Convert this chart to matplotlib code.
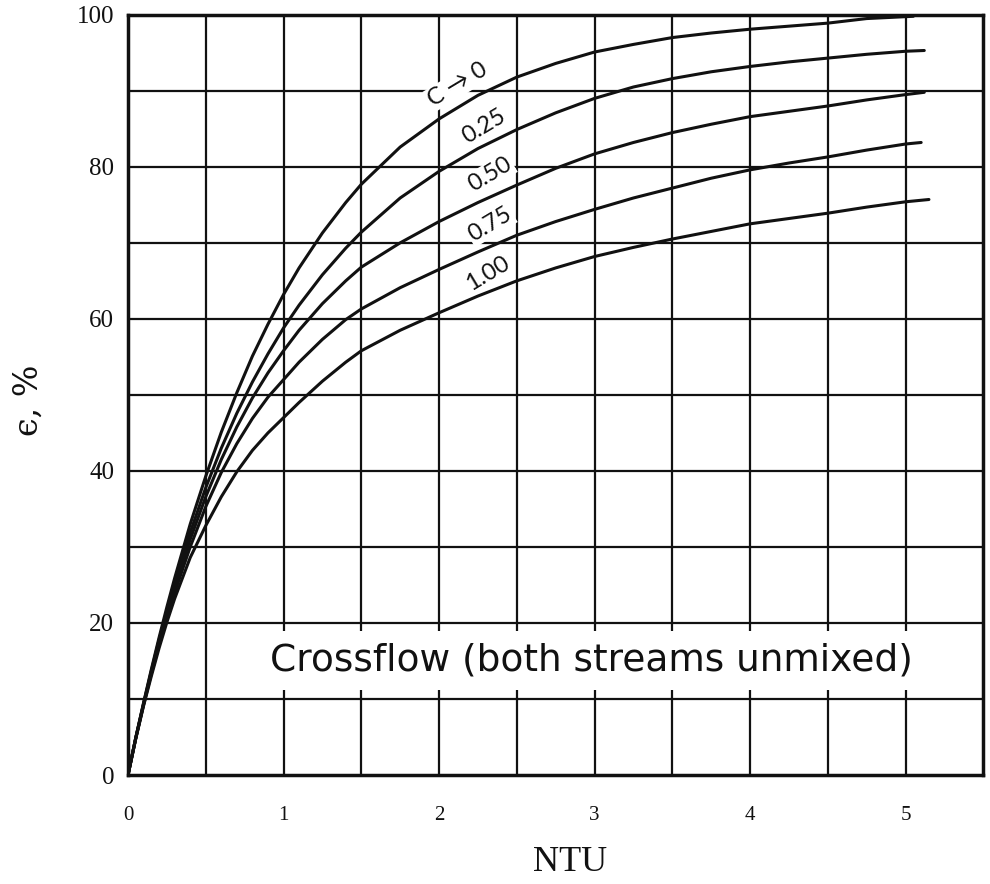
import numpy as np
import matplotlib
matplotlib.use("Agg")
import matplotlib.pyplot as plt
from matplotlib.patches import Rectangle

# ---- data (NTU vs effectiveness %) ----
ntu = [0, 0.05, 0.1, 0.15, 0.2, 0.25, 0.3, 0.4, 0.5, 0.6, 0.7, 0.8, 0.9, 1.0,
       1.1, 1.25, 1.4, 1.5, 1.75, 2.0, 2.25, 2.5, 2.75, 3.0, 3.25, 3.5, 3.75,
       4.0, 4.25, 4.5]

eff_c000 = [0, 4.9, 9.5, 13.9, 18.1, 22.1, 25.9, 33.0, 39.3, 45.1, 50.3, 55.1, 59.3, 63.2,
            66.7, 71.3, 75.3, 77.7, 82.6, 86.3, 89.4, 91.8, 93.6, 95.1, 96.1, 97.0, 97.6,
            98.1, 98.5, 98.9]
eff_c025 = [0, 4.9, 9.4, 13.7, 17.8, 21.6, 25.2, 31.9, 37.8, 43.0, 47.6, 51.7, 55.4, 58.8,
            61.8, 65.8, 69.3, 71.4, 75.9, 79.4, 82.4, 84.9, 87.1, 89.0, 90.5, 91.6, 92.5,
            93.2, 93.8, 94.3]
eff_c050 = [0, 4.9, 9.3, 13.5, 17.5, 21.2, 24.6, 31.0, 36.6, 41.5, 45.8, 49.6, 52.9, 55.8,
            58.5, 62.0, 65.0, 66.8, 70.0, 72.8, 75.3, 77.6, 79.8, 81.7, 83.2, 84.5, 85.6,
            86.6, 87.3, 88.0]
eff_c075 = [0, 4.8, 9.2, 13.3, 17.1, 20.7, 24.0, 30.0, 35.3, 39.8, 43.6, 46.9, 49.7, 52.0,
            54.3, 57.3, 59.9, 61.3, 64.1, 66.5, 68.8, 71.0, 72.8, 74.4, 75.9, 77.2, 78.5,
            79.6, 80.5, 81.3]
eff_c100 = [0, 4.8, 9.1, 13.0, 16.7, 20.1, 23.2, 28.6, 32.8, 36.6, 39.9, 42.7, 45.0, 47.0,
            49.0, 51.8, 54.3, 55.8, 58.5, 60.8, 63.0, 65.0, 66.7, 68.2, 69.4, 70.5, 71.5,
            72.5, 73.2, 73.9]

# curve end points (NTU, eff)
end_ntu = {"0": [4.75, 5.05], "0.25": [4.75, 5.0, 5.12], "0.50": [4.75, 5.0, 5.12],
           "0.75": [4.75, 5.0, 5.1], "1.00": [4.75, 5.0, 5.15]}
end_eff = {"0": [99.5, 99.8], "0.25": [94.8, 95.2, 95.3], "0.50": [88.8, 89.5, 89.8],
           "0.75": [82.2, 83.0, 83.2], "1.00": [74.7, 75.4, 75.7]}

curve_keys = ["0", "0.25", "0.50", "0.75", "1.00"]
curve_vals = [eff_c000, eff_c025, eff_c050, eff_c075, eff_c100]
label_text = ["C \u2192 0", "0.25", "0.50", "0.75", "1.00"]
label_x = [2.12, 2.29, 2.33, 2.33, 2.31]
label_y = [90.8, 85.3, 79.0, 72.4, 66.0]

x_ticks = [0, 1, 2, 3, 4, 5]
y_ticks = [0, 20, 40, 60, 80, 100]

ink = "#111111"

fig = plt.figure(figsize=(9.9, 8.84), dpi=100)
ax = fig.add_axes([0.1293, 0.1233, 0.864, 0.860])

ax.set_xlim(0, 5.5)
ax.set_ylim(0, 100)

# grid
for gx in np.arange(0.5, 5.5, 0.5):
    ax.axvline(gx, color=ink, lw=1.6, zorder=1)
for gy in np.arange(10, 100, 10):
    ax.axhline(gy, color=ink, lw=1.6, zorder=1)

# curves
for key, vals in zip(curve_keys, curve_vals):
    xs = list(ntu) + end_ntu[key]
    ys = list(vals) + end_eff[key]
    ax.plot(xs, ys, color=ink, lw=2.2, zorder=3, solid_capstyle="round",
            solid_joinstyle="round")

# curve labels
for t, lx, ly in zip(label_text, label_x, label_y):
    ax.text(lx, ly, t, rotation=31, ha="center", va="center", fontsize=17,
            family="Lato", color=ink, zorder=4,
            bbox=dict(facecolor="white", edgecolor="none", pad=1.0))

# white band behind the caption
ax.add_patch(Rectangle((0.85, 11.2), 4.55, 7.8, facecolor="white",
                       edgecolor="none", zorder=2))
ax.text(2.98, 15.1, "Crossflow (both streams unmixed)", ha="center",
        va="center", fontsize=27, family="DejaVu Sans", color=ink, zorder=4)

ax.set_xticks(x_ticks)
ax.set_yticks(y_ticks)
ax.set_xticklabels([str(v) for v in x_ticks], fontsize=15, family="Liberation Serif")
ax.set_yticklabels([str(v) for v in y_ticks], fontsize=18, family="Liberation Serif")
ax.tick_params(axis="both", length=0, colors=ink)
ax.tick_params(axis="x", pad=22)
ax.tick_params(axis="y", pad=10)

for s in ax.spines.values():
    s.set_linewidth(2.5)
    s.set_color(ink)

ax.set_xlabel("NTU", fontsize=26, family="Liberation Serif", color=ink)
ax.xaxis.set_label_coords(0.517, -0.093)
ax.set_ylabel("\u03f5, %", fontsize=24, family="DejaVu Serif", color=ink)
ax.yaxis.set_label_coords(-0.097, 0.493)

fig.savefig("out.png", dpi=100, facecolor="white")
